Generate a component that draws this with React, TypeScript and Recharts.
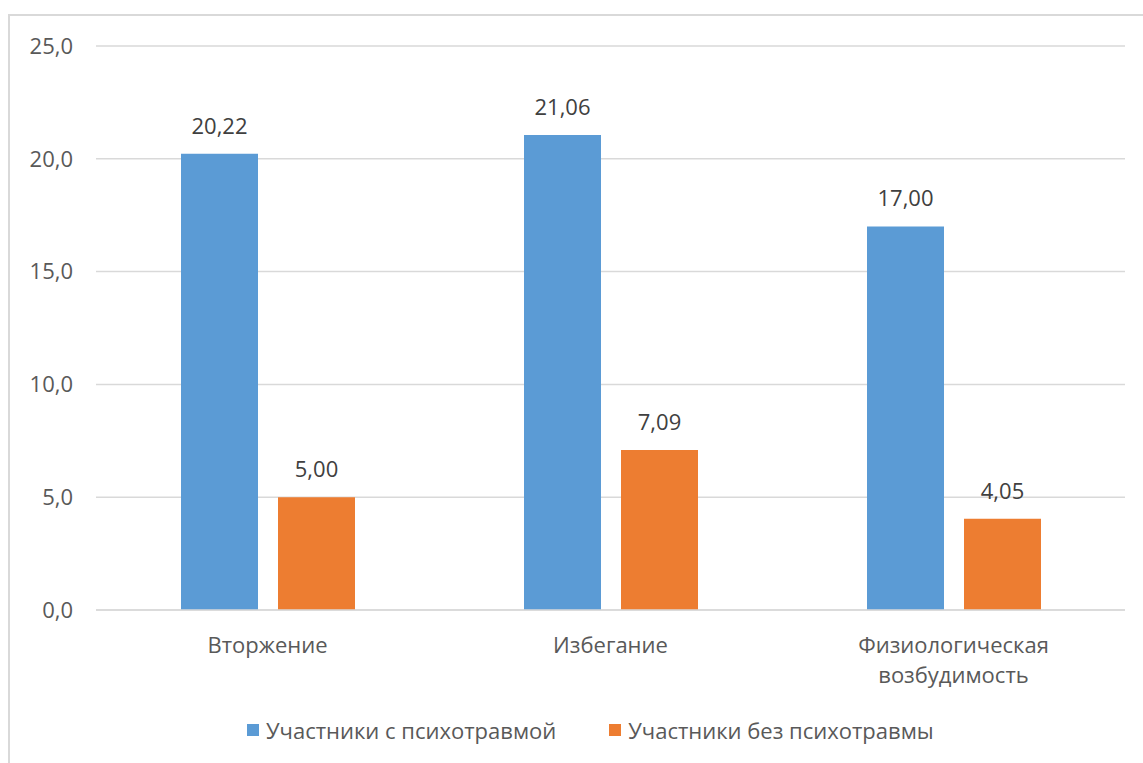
import { BarChart, Bar, XAxis, YAxis, CartesianGrid, LabelList } from 'recharts';

const CATEGORIES = ['Вторжение', 'Избегание', 'Физиологическая возбудимость'];
const WITH_TRAUMA = [20.22, 21.06, 17.0];
const WITHOUT_TRAUMA = [5.0, 7.09, 4.05];
const Y_TICKS = [0, 5, 10, 15, 20, 25];

const SERIES = [
  { key: 'withTrauma', name: 'Участники с психотравмой', color: '#5B9BD5' },
  { key: 'withoutTrauma', name: 'Участники без психотравмы', color: '#ED7D31' },
];

const data = CATEGORIES.map((name, i) => ({
  name,
  withTrauma: WITH_TRAUMA[i],
  withoutTrauma: WITHOUT_TRAUMA[i],
}));

const FONT = '"Open Sans", "Noto Sans", sans-serif';
const FONT_SIZE = 22;

const comma = (v: number, digits: number) => v.toFixed(digits).replace('.', ',');

// category names wrap after the first word when they have two
function CategoryTick({ x, y, payload }: any) {
  const words = String(payload.value).split(' ');
  return (
    <text x={x} y={y} textAnchor="middle" fill="#595959" fontSize={FONT_SIZE} fontFamily={FONT}>
      {words.map((w, i) => (
        <tspan key={i} x={x} dy={i === 0 ? 35 : 30}>
          {w}
        </tspan>
      ))}
    </text>
  );
}

export default function App() {
  return (
    <div style={{ position: 'absolute', left: 0, top: 0, width: 1143, height: 763, background: '#fff', overflow: 'hidden' }}>
      <div
        style={{
          position: 'absolute',
          left: 8,
          top: 14,
          width: 1200,
          height: 800,
          borderLeft: '2px solid #d9d9d9',
          borderTop: '2px solid #d9d9d9',
        }}
      />
      <div style={{ position: 'absolute', left: 0, top: 0 }}>
        <BarChart
          width={1143}
          height={763}
          data={data}
          margin={{ top: 46, right: 18, bottom: 0, left: 0 }}
          barSize={77}
          barGap={20}
        >
          <CartesianGrid vertical={false} stroke="#d9d9d9" strokeWidth={1.5} />
          <XAxis
            dataKey="name"
            height={153}
            axisLine={{ stroke: '#d9d9d9', strokeWidth: 1.5 }}
            tickLine={false}
            interval={0}
            tick={<CategoryTick />}
          />
          <YAxis
            width={96}
            domain={[0, 25]}
            ticks={Y_TICKS}
            axisLine={false}
            tickLine={false}
            tickSize={0}
            tickMargin={23}
            tickFormatter={(v: number) => comma(v, 1)}
            tick={{ fill: '#595959', fontSize: FONT_SIZE, fontFamily: FONT }}
          />
          {SERIES.map((s) => (
            <Bar key={s.key} dataKey={s.key} name={s.name} fill={s.color} isAnimationActive={false}>
              <LabelList
                dataKey={s.key}
                position="top"
                offset={20}
                formatter={(v: any) => comma(Number(v), 2)}
                style={{ fill: '#404040', fontSize: FONT_SIZE, fontFamily: FONT }}
              />
            </Bar>
          ))}
        </BarChart>
      </div>
      <div
        style={{
          position: 'absolute',
          left: 247,
          top: 715,
          display: 'flex',
          gap: 53,
          fontFamily: FONT,
          fontSize: FONT_SIZE,
          lineHeight: '30px',
          color: '#595959',
        }}
      >
        {SERIES.map((s) => (
          <div key={s.key} style={{ display: 'flex', alignItems: 'center' }}>
            <span style={{ width: 12, height: 12, background: s.color, marginRight: 7, display: 'inline-block' }} />
            <span>{s.name}</span>
          </div>
        ))}
      </div>
    </div>
  );
}
